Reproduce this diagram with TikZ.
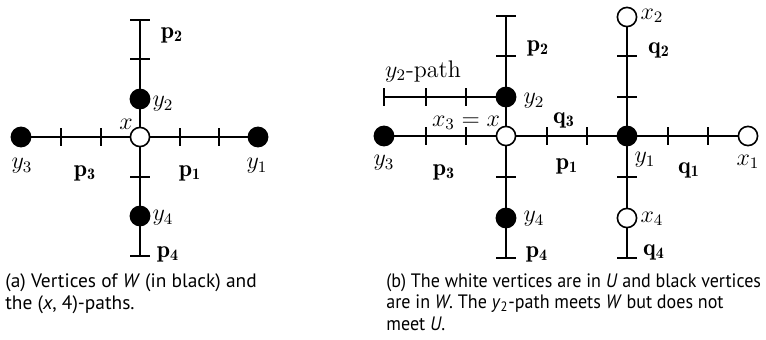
\documentclass[tikz,border=0pt]{standalone}
\usepackage{fontspec}
\newfontfamily\capfont{PT Sans}
\newfontfamily\capfontb[FakeStretch=0.93]{PT Sans}
\usetikzlibrary{calc}
\begin{document}
\begin{tikzpicture}[x=0.5pt,y=-0.5pt,
  edgeline/.style={line width=0.8pt},
  wv/.style={circle,draw,fill=white,minimum size=9.6pt,inner sep=0pt,line width=0.8pt},
  bv/.style={circle,draw,fill=black,minimum size=9.6pt,inner sep=0pt,line width=0.8pt},
  lab/.style={inner sep=0pt,font=\fontsize{12}{14}\selectfont},
  captext/.style={inner sep=0pt,anchor=base west,align=left,font=\capfont\fontsize{9.7}{10.6}\selectfont},
  captextb/.style={inner sep=0pt,anchor=base west,align=left,font=\capfontb\fontsize{9.7}{10.6}\selectfont},
  htick/.pic={\draw[edgeline] (-10,0) -- (10,0);},
  vtick/.pic={\draw[edgeline] (0,-9) -- (0,9);}]
\useasboundingbox (0,0) rectangle (766,339);

% ---------- (a) ----------
\node[wv] (ax) at (140,137) {};
\node[bv] (ay1) at (258,137) {};
\node[bv] (ay3) at (21,137) {};
\node[bv] (ay2) at (140,99) {};
\node[bv] (ay4) at (140,216) {};
\coordinate (aeu) at (140,20);
\coordinate (aed) at (140,256);
\draw[edgeline] (ax) -- (ay1);
\draw[edgeline] (ax) -- (ay3);
\draw[edgeline] (ax) -- (ay2);
\draw[edgeline] (ay2) -- (aeu);
\draw[edgeline] (ax) -- (ay4);
\draw[edgeline] (ay4) -- (aed);
\pic at (aeu) {htick};
\pic at (aed) {htick};
\pic at (140,59) {htick};
\pic at (140,177) {htick};
\pic at (180,137) {vtick};
\pic at (219,137) {vtick};
\pic at (101,137) {vtick};
\pic at (61,137) {vtick};
\node[lab] (lap2) at (172,35) {$\mathbf{p_2}$};
\node[lab] (lay2) at (163,104) {$y_2$};
\node[lab] (lax) at (126,124) {$x$};
\node[lab] (lay3) at (22,166) {$y_3$};
\node[lab] (lap3) at (85,173) {$\mathbf{p_3}$};
\node[lab] (lap1) at (190,173) {$\mathbf{p_1}$};
\node[lab] (lay1) at (257,166) {$y_1$};
\node[lab] (lay4) at (163,218) {$y_4$};
\node[lab] (lap4) at (168,254) {$\mathbf{p_4}$};

% ---------- (b) ----------
\node[wv] (bx) at (506,136) {};
\node[bv] (by1) at (627,136) {};
\node[wv] (bx1) at (748,136) {};
\node[bv] (by3) at (384,136) {};
\node[bv] (by2) at (506,97) {};
\node[bv] (by4) at (506,218) {};
\node[wv] (bx2) at (627,17) {};
\node[wv] (bx4) at (627,218) {};
\coordinate (beu) at (506,16);
\coordinate (bed) at (506,258);
\coordinate (bqd) at (627,258);
\coordinate (bpe) at (384,97);
\draw[edgeline] (by3) -- (bx);
\draw[edgeline] (bx) -- (by1);
\draw[edgeline] (by1) -- (bx1);
\draw[edgeline] (beu) -- (by2);
\draw[edgeline] (by2) -- (bx);
\draw[edgeline] (bx) -- (by4);
\draw[edgeline] (by4) -- (bed);
\draw[edgeline] (bx2) -- (by1);
\draw[edgeline] (by1) -- (bx4);
\draw[edgeline] (bx4) -- (bqd);
\draw[edgeline] (bpe) -- (by2);
\pic at (beu) {htick};
\pic at (bed) {htick};
\pic at (bqd) {htick};
\pic at (bpe) {vtick};
\pic at (426,97) {vtick};
\pic at (466,97) {vtick};
\pic at (506,56) {htick};
\pic at (506,177) {htick};
\pic at (627,56) {htick};
\pic at (627,97) {htick};
\pic at (627,177) {htick};
\pic at (426,136) {vtick};
\pic at (466,136) {vtick};
\pic at (547,136) {vtick};
\pic at (587,136) {vtick};
\pic at (668,136) {vtick};
\pic at (708,136) {vtick};
\node[lab] (blpath) at (423,71) {$y_2$-path};
\node[lab] (blp2) at (538,48) {$\mathbf{p_2}$};
\node[lab] (blq2) at (659,50) {$\mathbf{q_2}$};
\node[lab] (blx2) at (652,16) {$x_2$};
\node[lab] (bly2) at (534,101) {$y_2$};
\node[lab] (blx3) at (466,123) {$x_3=x$};
\node[lab] (blq3) at (564,120) {$\mathbf{q_3}$};
\node[lab] (bly3) at (384,163) {$y_3$};
\node[lab] (blp3) at (444,172) {$\mathbf{p_3}$};
\node[lab] (blp1) at (567,166) {$\mathbf{p_1}$};
\node[lab] (bly1) at (645,160) {$y_1$};
\node[lab] (blq1) at (689,170) {$\mathbf{q_1}$};
\node[lab] (blx1) at (748,162) {$x_1$};
\node[lab] (bly4) at (534,219) {$y_4$};
\node[lab] (blx4) at (652,219) {$x_4$};
\node[lab] (blp4) at (537,254) {$\mathbf{p_4}$};
\node[lab] (blq4) at (654,252) {$\mathbf{q_4}$};

% ---------- captions (anchor = baseline of last line) ----------
\node[captext] (capa) at (5,309) {(a) Vertices of \textit{W} (in black) and\\the (\textit{x}, 4)-paths.};
\node[captextb] (capb) at (386,330) {(b) The white vertices are in \textit{U} and black vertices\\are in \textit{W}. The \textit{y}\textsubscript{2}-path meets \textit{W} but does not\\meet \textit{U}.};
\end{tikzpicture}
\end{document}
